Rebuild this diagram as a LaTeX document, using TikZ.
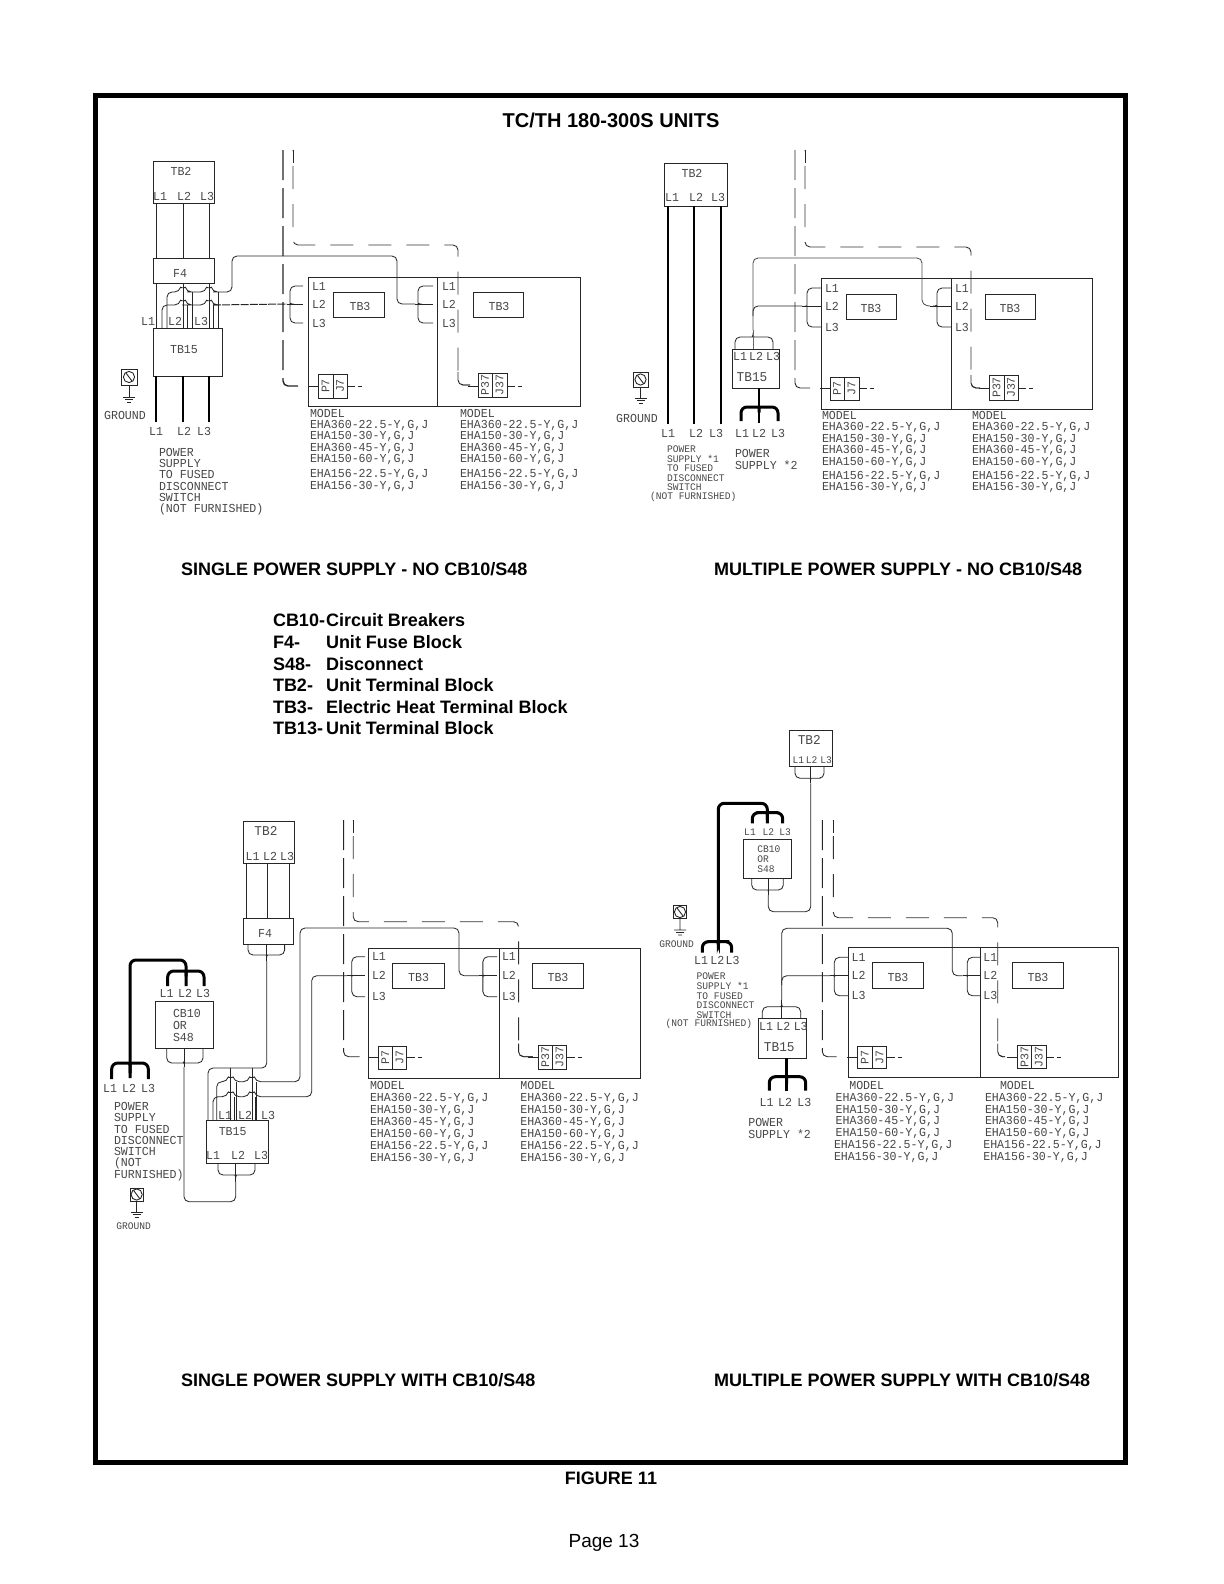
\documentclass[tikz,border=0pt]{standalone}
\usepackage{fontspec}
\usepackage{graphicx}
\setmainfont{Liberation Sans}
\newfontfamily\cadfont{Liberation Mono}
\usetikzlibrary{fit}
\newcounter{lbc}
\tikzset{
  wire/.style={line width=0.42pt,draw=black!85,rounded corners=2.5pt},
  heavy/.style={line width=1.5pt,draw=black,rounded corners=3pt},
  bigwire/.style={line width=1.45pt,draw=black},
  boxline/.style={line width=0.45pt,draw=black!85},
  cadbox/.style={boxline,inner sep=0pt,outer sep=0pt},
  caddash/.style={line width=0.6pt,draw=black!85,rounded corners=2.5pt,dash pattern=on 15pt off 4pt},
  caddashin/.style={line width=0.45pt,draw=black!80,rounded corners=2.5pt,dash pattern=on 11.5pt off 7.5pt,dash phase=11pt},
  cadtext/.style={inner sep=0pt,outer sep=0pt,text=black!72,font=\cadfont\fontsize{5.8}{6}\selectfont},
  cadsmall/.style={cadtext,font=\cadfont\fontsize{4.8}{5}\selectfont},
  cadbig/.style={cadtext,font=\cadfont\fontsize{6.4}{7}\selectfont},
  title/.style={inner sep=0pt,outer sep=0pt,anchor=west,font=\bfseries\fontsize{9}{10}\selectfont},
}
% left-anchored and centred CAD labels, named automatically
\newcommand\cadL[4][cadtext]{\stepcounter{lbc}\node[#1,anchor=west] (lab\thelbc) at (#2,#3) {\scalebox{1}[1.05]{#4}};}
\newcommand\cadC[4][cadtext]{\stepcounter{lbc}\node[#1,anchor=center] (lab\thelbc) at (#2,#3) {\scalebox{1}[1.05]{#4}};}
\newcommand\titleL[3]{\stepcounter{lbc}\node[title] (lab\thelbc) at (#1,#2) {#3};}
% box by corners
\newcommand\cadBox[5]{\node[cadbox,fit={(#2,#3)(#4,#5)}] (#1) {};}
% hump of a wire over a crossing
\newcommand\hump[2]{-- ({#1-3.5},#2) .. controls ({#1-2.5},{#2-4}) and ({#1+2.5},{#2-4}) .. ({#1+3.5},#2)}
% vertical brace: style, id, tip y, bar y, x1, x2, x3, end y
\newcommand\vbrace[8][wire]{%
  \coordinate (#2) at (#6,#3);
  \draw[#1] (#5,#8) -- (#5,#4) -- ({#6-5},#4) .. controls ({#6-2},#4) and (#6,#4) .. (#2) .. controls (#6,#4) and ({#6+2},#4) .. ({#6+5},#4) -- (#7,#4) -- (#7,#8);}
% horizontal brace: id, tip x, bar x, end x, y1,y2,y3
\newcommand\hbrace[7]{%
  \coordinate (#1) at (#2,#6);
  \draw[wire] (#4,#5) -- (#3,#5) -- (#3,{#6-5}) .. controls (#3,{#6-2}) and (#3,#6) .. (#1) .. controls (#3,#6) and (#3,{#6+2}) .. (#3,{#6+5}) -- (#3,#7) -- (#4,#7);
  \draw[wire] (#1) -- (#4,#6);}
% plug: id, x0, xm, x1, y0, y1, stub y, left text, right text
\newcommand\plug[9]{%
  \node[cadbox,fit={(#2,#5)(#4,#6)}] (#1) {};
  \coordinate (#1m) at (#3,#5);\coordinate (#1n) at (#3,#6);
  \draw[boxline] (#1m) -- (#1n);
  \stepcounter{lbc}\node[cadtext,rotate=90] (lab\thelbc) at ({(#2+#3)/2},{(#5+#6)/2}) {#8};
  \stepcounter{lbc}\node[cadtext,rotate=90] (lab\thelbc) at ({(#3+#4)/2},{(#5+#6)/2}) {#9};
  \draw[boxline] ({#2-10},#7) -- (#2,#7);
  \draw[boxline] (#4,#7) -- ({#4+8},#7) ({#4+11},#7) -- ({#4+15},#7);}
% ground: id, x0,y0,x1,y1, stem end y
\newcommand\groundsym[6]{%
  \node[cadbox,fit={(#2,#3)(#4,#5)}] (#1) {};
  \draw[boxline] (#1.center) circle (2.8pt);
  \draw[boxline] ({(#2+#4)/2-3},{(#3+#5)/2-4}) -- ({(#2+#4)/2+3},{(#3+#5)/2+4});
  \draw[boxline] (#1.south) -- ({(#2+#4)/2},#6)
    ({(#2+#4)/2-6},#6) -- ({(#2+#4)/2+6},#6)
    ({(#2+#4)/2-4},{#6+2.5}) -- ({(#2+#4)/2+4},{#6+2.5})
    ({(#2+#4)/2-2},{#6+5}) -- ({(#2+#4)/2+2},{#6+5});}
% inner dashed control line: name, x left, y top, y corner, x right, y bottom, x end
\newcommand\innerdash[7]{%
  \coordinate (#1s) at (#2,#3); \coordinate (#1e) at (#7,#6);
  \draw[caddashin] (#1s) -- (#2,#4) -- (#5,#4) -- (#5,#6) -- (#1e);
  \draw[boxline] (#1s) -- (#2,{#3+13});
  \draw[boxline,rounded corners=2.5pt] (#5,{#6-13}) -- (#5,#6) -- (#1e);}
% model list
\def\parsemodel#1#2#3/#4/#5/#6/#7/#8\relax{%
  \cadL{#1}{#3}{EHA360-22.5-Y,G,J}\cadL{#1}{#4}{EHA150-30-Y,G,J}\cadL{#1}{#5}{EHA360-45-Y,G,J}%
  \cadL{#1}{#6}{EHA150-60-Y,G,J}\cadL{#2}{#7}{EHA156-22.5-Y,G,J}\cadL{#2}{#8}{EHA156-30-Y,G,J}}
\newcommand\modellist[5]{\cadL{#1}{#2}{MODEL}\parsemodel{#3}{#4}#5\relax}
\begin{document}
\begin{tikzpicture}[x=0.5pt,y=-0.5pt]
\useasboundingbox (0,0) rectangle (1224,1584);
\draw[line width=2.5pt,draw=black] (95.5,95.5) rectangle (1125.5,1462.5);
\stepcounter{lbc}\node[inner sep=0pt,font=\bfseries\fontsize{10}{11}\selectfont] (lab\thelbc) at (611,120) {TC/TH 180-300S UNITS};
\titleL{181}{569}{SINGLE POWER SUPPLY - NO CB10/S48}
\titleL{714}{569}{MULTIPLE POWER SUPPLY - NO CB10/S48}
\titleL{181}{1380}{SINGLE POWER SUPPLY WITH CB10/S48}
\titleL{714}{1380}{MULTIPLE POWER SUPPLY WITH CB10/S48}
\foreach \k/\y/\a/\b in {1/620/CB10-/Circuit Breakers,2/642/F4-/Unit Fuse Block,3/664/S48-/Disconnect,4/685/TB2-/Unit Terminal Block,5/707/TB3-/Electric Heat Terminal Block,6/728/TB13-/Unit Terminal Block}{
  \node[title] (lega\k) at (273,\y) {\a};
  \node[title] (legb\k) at (326,\y) {\b};
}
\stepcounter{lbc}\node[inner sep=0pt,font=\bfseries\fontsize{9}{10}\selectfont] (lab\thelbc) at (611,1478) {FIGURE 11};
\stepcounter{lbc}\node[inner sep=0pt,font=\fontsize{9.5}{10}\selectfont] (lab\thelbc) at (604,1543) {Page 13};

% ===== A: single, no CB10 =====
\cadBox{Atb2}{153}{161}{214}{203}
\cadBox{Af4}{153}{258}{214}{283}
\cadBox{Atb15}{153}{328}{222}{376}
\cadC{181}{171}{TB2}\cadC{160}{196}{L1}\cadC{184}{196}{L2}\cadC{207}{196}{L3}
\cadC{180}{273}{F4}\cadC{184}{350}{TB15}
\cadC{148}{321}{L1}\cadC{175}{321}{L2}\cadC{201}{321}{L3}
\foreach \n/\x in {1/156,2/183,3/209}{
  \coordinate (Au\n) at (\x,203); \coordinate (Av\n) at (\x,258);
  \coordinate (Aw\n) at (\x,283); \coordinate (Ax\n) at (\x,328);
  \coordinate (Ay\n) at (\x,376); \coordinate (Az\n) at (\x,422);
  \draw[wire] (Au\n) -- (Av\n); \draw[wire] (Aw\n) -- (Ax\n);
  \draw[bigwire] (Ay\n) -- (Az\n);
}
\foreach \n/\x/\y in {a/162/305,b/167/292,c/187/305,d/192/292,e/213/305,f/218/292}{
  \coordinate (Ad\n) at (\x,328); \coordinate (Ae\n) at (\x,\y);
}
\draw[wire] (Ada) -- (Aea) \hump{183}{305} -- (Aec) \hump{209}{305} -- (Aee);
\draw[wire] (Adc) -- (Aec); \draw[wire] (Ade) -- (Aee); \draw[wire] (Add) -- (Aed); \draw[wire] (Adf) -- (Aef);
\cadBox{Ap1}{308}{277}{437}{406}
\cadBox{Ap2}{437}{277}{580}{406}
\hbrace{Alb}{287}{290}{303}{286}{304}{323}
\hbrace{Arb}{415}{418}{433}{286}{304}{323}
\draw[wire] (Adb) -- (Aeb) \hump{183}{292} -- (Aed) \hump{209}{292} -- (Aef) -- (232,292) -- (232,256) -- (397,256) -- (397,304) -- (Arb);
\draw[wire,dash pattern=on 4pt off 0.6pt,line width=0.5pt] (Aee) -- (Alb);
\cadBox{Ab1}{333}{292}{384}{317}
\cadBox{Ab2}{473}{292}{523}{317}
\cadC{360}{306}{TB3}\cadC{499}{306}{TB3}
\cadL{312}{286}{L1}\cadL{312}{304}{L2}\cadL{312}{323}{L3}
\cadL{442}{286}{L1}\cadL{442}{304}{L2}\cadL{442}{323}{L3}
\plug{Apa}{318}{333}{347}{374}{398}{386}{P7}{J7}
\plug{Apb}{478}{492}{507}{373}{397}{386}{P37}{J37}
\coordinate (Ao1) at (283,150); \coordinate (Ao2) at (298,386);
\draw[caddash,line width=0.7pt] (Ao1) -- (283,386) -- (Ao2);
\innerdash{Ai}{293}{150}{245}{458}{385}{470}
\groundsym{Agnd}{121}{369}{137}{385}{397}
\cadC{125}{415}{GROUND}
\cadC{156}{431}{L1}\cadC{184}{431}{L2}\cadC{204}{431}{L3}
\cadL{159}{452}{POWER}\cadL{159}{463}{SUPPLY}\cadL{159}{474}{TO FUSED}\cadL{159}{486}{DISCONNECT}\cadL{159}{497}{SWITCH}\cadL{159}{509}{(NOT FURNISHED)}
\modellist{310}{413}{310}{310}{426/437/449/460/475/487}
\modellist{460}{413}{460}{460}{426/437/449/460/475/487}

% ===== B: multiple, no CB10 =====
\cadBox{Btb2}{664}{163}{727}{206}
\cadC{692}{173}{TB2}\cadC{672}{197}{L1}\cadC{696}{197}{L2}\cadC{718}{197}{L3}
\foreach \n/\x in {1/668,2/694,3/721}{
  \coordinate (Bu\n) at (\x,206); \coordinate (Bz\n) at (\x,424);
  \draw[bigwire] (Bu\n) -- (Bz\n);
}
\cadBox{Btb15}{732}{349}{779}{388}
\cadC{740}{356}{L1}\cadC{756}{356}{L2}\cadC{773}{356}{L3}\cadC[cadbig]{752}{377}{TB15}
\vbrace{Btop}{330}{337}{735}{753}{773}{349}
\coordinate (Bm) at (753,349); \draw[wire,draw=black!60] (Bm) -- (Btop);
\vbrace[heavy]{Bfork}{402}{407}{741}{759}{778}{421}
\coordinate (Bs) at (759,388); \coordinate (Be) at (759,423);
\draw[bigwire] (Bs) -- (Be);
\cadBox{Bp1}{821}{278}{951}{409}
\cadBox{Bp2}{951}{278}{1092}{409}
\hbrace{Blb}{802}{807}{821}{288}{306}{327}
\hbrace{Brb}{930}{937}{951}{288}{306}{327}
\draw[wire,draw=black!70] (Btop) -- (753,258) -- (922,258) -- (922,305) -- (Brb);
\draw[wire] (753,316) -- (753,306) -- (Blb);
\cadBox{Bb1}{846}{294}{896}{319}
\cadBox{Bb2}{985}{294}{1035}{319}
\cadC{871}{308}{TB3}\cadC{1010}{308}{TB3}
\cadL{825}{288}{L1}\cadL{825}{306}{L2}\cadL{825}{327}{L3}
\cadL{955}{288}{L1}\cadL{955}{306}{L2}\cadL{955}{327}{L3}
\plug{Bpa}{830}{844}{859}{377}{400}{388}{P7}{J7}
\plug{Bpb}{989}{1004}{1018}{375}{400}{388}{P37}{J37}
\coordinate (Bo1) at (795,150); \coordinate (Bo2) at (810,388);
\draw[caddash,line width=0.45pt] (Bo1) -- (795,388) -- (Bo2);
\innerdash{Bi}{805}{150}{247}{971}{388}{980}
\groundsym{Bgnd}{633}{372}{648}{387}{398}
\cadC{637}{418}{GROUND}
\cadC{668}{433}{L1}\cadC{696}{433}{L2}\cadC{716}{433}{L3}
\cadC{742}{433}{L1}\cadC{759}{433}{L2}\cadC{778}{433}{L3}
\cadL[cadsmall]{667}{449}{POWER}\cadL[cadsmall]{667}{459}{SUPPLY *1}\cadL[cadsmall]{667}{468.5}{TO FUSED}\cadL[cadsmall]{667}{478}{DISCONNECT}\cadL[cadsmall]{667}{487}{SWITCH}\cadL[cadsmall]{650}{497}{(NOT FURNISHED)}
\cadL{735}{453}{POWER}\cadL{735}{465}{SUPPLY *2}
\modellist{822}{415}{822}{822}{428/440/451/463/476/488}
\modellist{972}{415}{972}{972}{428/440/451/463/476/488}

% ===== C: single with CB10 =====
\cadBox{Ctb2}{243.6}{821}{294}{863}
\cadC[cadbig]{266}{831}{TB2}\cadC{252.5}{856}{L1}\cadC{270}{856}{L2}\cadC{287}{856}{L3}
\cadBox{Cf4}{243}{918}{293.5}{944}
\cadC{265}{933}{F4}
\foreach \n/\x in {1/246.4,2/267.9,3/289.3}{
  \coordinate (Cu\n) at (\x,863); \coordinate (Cv\n) at (\x,918);
  \draw[wire] (Cu\n) -- (Cv\n);
}
\vbrace{Cfb}{961}{955}{248}{266.8}{284.6}{944}
\coordinate (Cfm) at (266.8,944); \draw[wire] (Cfm) -- (Cfb);
\cadBox{Ctb15}{206.7}{1120}{268}{1163}
\cadC{232.7}{1132}{TB15}\cadC{213}{1155}{L1}\cadC{238}{1155}{L2}\cadC{261}{1155}{L3}
\cadC{225}{1115}{L1}\cadC{245}{1115}{L2}\cadC{268}{1115}{L3}
\cadBox{Ccb}{155}{1001}{213}{1048}
\cadL{173}{1013}{CB10}\cadL{173}{1025}{OR}\cadL{173}{1037}{S48}
\vbrace{Ccbb}{1067}{1063}{166.7}{184}{203}{1048}
\coordinate (Ccm) at (184,1048); \draw[wire] (Ccm) -- (Ccbb);
\vbrace{Ctbb}{1182}{1175}{218}{235.7}{255}{1163}
\coordinate (Ctm) at (235.7,1163); \draw[wire] (Ctm) -- (Ctbb);
\draw[wire] (Ccbb) -- (184,1201.7) -- (235.7,1201.7) -- (Ctbb);
\cadBox{Cp1}{368.6}{948.3}{499.6}{1078.3}
\cadBox{Cp2}{499.6}{948.3}{640}{1078.3}
\hbrace{Clb}{347}{351.8}{365}{956.7}{975.7}{996.7}
\hbrace{Crb}{479}{482.9}{497}{956.7}{975.7}{996.7}
\foreach \n/\x/\y in {a/208/1068,b/230.7/1068,c/252/1068,d/216.7/1081.7,e/236.7/1081.7,f/256.7/1081.7,g/213/1096.7,h/234.5/1096.7,i/255.5/1096.7}{
  \coordinate (Cd\n) at (\x,1120); \coordinate (Ce\n) at (\x,\y);
}
\draw[wire] (Cda) -- (Cea) -- (266.8,1068) -- (Cfb);
\draw[wire,line width=0.6pt] (Cdb) -- (Ceb); \draw[wire] (Cdc) -- (Cec);
\draw[wire] (Cdd) -- (Ced) \hump{230.7}{1081.7} \hump{252}{1081.7} -- (300,1081.7) -- (300,928) -- (459,928) -- (459,975.7) -- (Crb);
\draw[wire] (Cde) -- (Cee); \draw[wire] (Cdf) -- (Cef);
\draw[wire] (Cdg) -- (Ceg) \hump{230.7}{1096.7} \hump{252}{1096.7} -- (311.7,1096.7) -- (311.7,975.7) -- (Clb);
\draw[wire] (Cdh) -- (Ceh); \draw[wire] (Cdi) -- (Cei);
\vbrace[heavy]{Ctopf}{966}{971}{167.7}{186}{204}{986}
\coordinate (Cts) at (186,986);
\draw[heavy] (Cts) -- (186,960) -- (130,960) -- (130,1078);
\vbrace[heavy]{Cbotf}{1059}{1063}{111.7}{130}{148.3}{1079}
\cadBox{Cb1}{392.9}{963.3}{444.3}{988.3}
\cadBox{Cb2}{532}{963.3}{583.6}{988.3}
\cadC{418.6}{977}{TB3}\cadC{558}{977}{TB3}
\cadL{372}{956.7}{L1}\cadL{372}{975.7}{L2}\cadL{372}{996.7}{L3}
\cadL{502}{956.7}{L1}\cadL{502}{975.7}{L2}\cadL{502}{996.7}{L3}
\plug{Cpa}{378}{392.5}{406.8}{1046}{1069}{1057}{P7}{J7}
\plug{Cpb}{538.2}{552.5}{566.8}{1045}{1069}{1057}{P37}{J37}
\coordinate (Co1) at (343.6,820); \coordinate (Co2) at (359.6,1056.7);
\draw[caddash,line width=0.45pt] (Co1) -- (343.6,1056.7) -- (Co2);
\innerdash{Ci}{353.2}{820}{921.7}{518.6}{1056.7}{532.9}
\cadC{166.7}{993}{L1}\cadC{185}{993}{L2}\cadC{203}{993}{L3}
\cadC{110}{1088}{L1}\cadC{129}{1088}{L2}\cadC{148}{1088}{L3}
\cadL{114}{1106}{POWER}\cadL{114}{1117.7}{SUPPLY}\cadL{114}{1129}{TO FUSED}\cadL{114}{1140}{DISCONNECT}\cadL{114}{1151.7}{SWITCH}\cadL{114}{1163.3}{(NOT}\cadL{114}{1175}{FURNISHED)}
\groundsym{Cgnd}{130}{1188}{143.3}{1201}{1212}
\cadC[cadsmall]{133.6}{1226}{GROUND}
\modellist{370}{1085}{370}{370}{1098/1110/1122/1134/1146/1158}
\modellist{520.4}{1085}{520.4}{520.4}{1098/1110/1122/1134/1146/1158}

% ===== D: multiple with CB10 =====
\cadBox{Dtb2}{789.3}{730.7}{832.7}{766}
\cadC[cadbig]{809.3}{740}{TB2}\cadC[cadsmall]{798.3}{760}{L1}\cadC[cadsmall]{811.7}{760}{L2}\cadC[cadsmall]{826}{760}{L3}
\vbrace{Dtbb}{783.3}{778.3}{795}{810.7}{824}{766}
\coordinate (Dtm) at (810.7,766); \draw[wire] (Dtm) -- (Dtbb);
\cadBox{Dcb}{743.3}{839.3}{791.7}{878.3}
\cadL[cadsmall]{757.3}{849}{CB10}\cadL[cadsmall]{757.3}{859}{OR}\cadL[cadsmall]{757.3}{868.7}{S48}
\vbrace{Dcbb}{895}{890}{751.7}{768.3}{783.3}{878.3}
\coordinate (Dcm) at (768.3,878.3); \draw[wire] (Dcm) -- (Dcbb);
\draw[wire] (Dtbb) -- (810.7,911.7) -- (768.3,911.7) -- (Dcbb);
\vbrace[heavy]{Dtopf}{808}{812.7}{752.3}{767.3}{782.7}{823.3}
\coordinate (Dts) at (767.3,823.3);
\draw[heavy] (Dts) -- (767.3,803.3) -- (718.3,803.3) -- (718.3,945);
\vbrace[heavy]{Dbotf}{938}{941.7}{702.3}{718.3}{731.7}{952.7}
\cadC[cadsmall]{750}{832.3}{L1}\cadC[cadsmall]{768.3}{832.3}{L2}\cadC[cadsmall]{785}{832.3}{L3}
\cadC{701}{960.7}{L1}\cadC{717.3}{960.7}{L2}\cadC{732.7}{960.7}{L3}
\cadL[cadsmall]{696.7}{976}{POWER}\cadL[cadsmall]{696.7}{985.7}{SUPPLY *1}\cadL[cadsmall]{696.7}{995.7}{TO FUSED}\cadL[cadsmall]{696.7}{1005}{DISCONNECT}\cadL[cadsmall]{696.7}{1014.7}{SWITCH}\cadL[cadsmall]{665.7}{1024.3}{(NOT FURNISHED)}
\groundsym{Dgnd}{673.3}{905.7}{686.7}{918.3}{930}
\cadC[cadsmall]{676.7}{944}{GROUND}
\cadBox{Dtb15}{758.3}{1018.3}{806.7}{1058.3}
\cadC{766}{1026}{L1}\cadC{783.3}{1026}{L2}\cadC{800.7}{1026}{L3}\cadC[cadbig]{779.3}{1046.7}{TB15}
\vbrace{Dtop}{1000}{1006.7}{762.3}{781.7}{800.7}{1018.3}
\coordinate (Dtn) at (781.7,1018.3); \draw[wire] (Dtn) -- (Dtop);
\cadBox{Dp1}{848.3}{947.7}{980.3}{1077.7}
\cadBox{Dp2}{980.3}{947.7}{1118.3}{1077.7}
\hbrace{Dlb}{830}{834.3}{848.3}{957.3}{975.7}{995.7}
\hbrace{Drb}{962.7}{967.3}{980.3}{957.3}{975.7}{995.7}
\draw[wire] (Dtop) -- (781.7,928.3) -- (952.3,928.3) -- (952.3,975.7) -- (Drb);
\draw[wire] (781.7,985) -- (781.7,975.7) -- (Dlb);
\vbrace[heavy]{Dfork}{1072}{1076.7}{769.3}{786.7}{805.7}{1090.7}
\coordinate (Dfs) at (786.7,1058.3); \coordinate (Dfe) at (786.7,1091);
\draw[bigwire] (Dfs) -- (Dfe);
\cadBox{Db1}{872.3}{962.3}{923.7}{988.3}
\cadBox{Db2}{1012.3}{962.3}{1063.3}{988.3}
\cadC{898}{977}{TB3}\cadC{1038}{977}{TB3}
\cadL{851.7}{957.3}{L1}\cadL{851.7}{975.7}{L2}\cadL{851.7}{995.7}{L3}
\cadL{983.3}{957.3}{L1}\cadL{983.3}{975.7}{L2}\cadL{983.3}{995.7}{L3}
\plug{Dpa}{857.3}{872.3}{886.7}{1046}{1068.3}{1057.3}{P7}{J7}
\plug{Dpb}{1017.3}{1031.7}{1046}{1045}{1068.3}{1057.3}{P37}{J37}
\coordinate (Do1) at (822.3,820); \coordinate (Do2) at (836.7,1056.7);
\draw[caddash,line width=0.45pt] (Do1) -- (822.3,1056.7) -- (Do2);
\innerdash{Di}{833.3}{820}{917.7}{997.7}{1056.7}{1005}
\cadC{766.7}{1102.3}{L1}\cadC{785}{1102.3}{L2}\cadC{804.3}{1102.3}{L3}
\cadL{748.3}{1122.3}{POWER}\cadL{748.3}{1134}{SUPPLY *2}
\modellist{849.3}{1085}{835.7}{834}{1098/1110/1121/1133/1145.5/1157}
\modellist{1000}{1085}{985}{983.3}{1098/1110/1121/1133/1145.5/1157}
\end{tikzpicture}
\end{document}
